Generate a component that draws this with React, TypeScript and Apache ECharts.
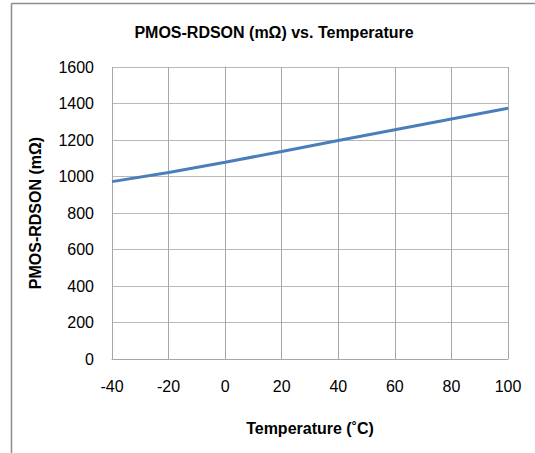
import React, { useEffect, useRef } from "react";
import * as echarts from "echarts";

const temperatures = [-40, -20, 0, 20, 40, 60, 80, 100];
const rdson = [972, 1022, 1078, 1137, 1197, 1256, 1315, 1374];
const titleText = "PMOS-RDSON (mΩ) vs. Temperature";
const xName = "Temperature (˚C)";
const yName = "PMOS-RDSON (mΩ)";

const FONT = "'Liberation Sans Narrow', 'Arial Narrow', 'Liberation Sans', Arial, sans-serif";

export default function App() {
  const ref = useRef<HTMLDivElement>(null);
  useEffect(() => {
    if (!ref.current) return;
    const chart = echarts.init(ref.current, undefined, { renderer: "svg" });
    chart.setOption({
      animation: false,
      backgroundColor: "#ffffff",
      title: {
        text: titleText,
        left: 269,
        top: 19,
        textAlign: "center",
        textStyle: { fontFamily: FONT, fontWeight: "bold", fontSize: 16, color: "#000" },
      },
      graphic: [
        { type: "line", shape: { x1: 11.5, y1: 3.5, x2: 11.5, y2: 453 }, style: { stroke: "#8c8c8c", lineWidth: 1.5 } },
        { type: "line", shape: { x1: 11.5, y1: 3.5, x2: 535, y2: 3.5 }, style: { stroke: "#8c8c8c", lineWidth: 1.5 } },
      ],
      grid: { left: 112, top: 67, width: 396, height: 292, containLabel: false },
      xAxis: {
        type: "value",
        min: -40,
        max: 100,
        interval: 20,
        name: xName,
        nameLocation: "middle",
        nameGap: 61,
        nameTextStyle: { fontFamily: FONT, fontWeight: "bold", fontSize: 16, color: "#000" },
        axisLine: { show: true, lineStyle: { color: "#a6a6a6", width: 1 } },
        axisTick: { show: false },
        axisLabel: { fontFamily: FONT, fontSize: 16, color: "#000", margin: 19, formatter: (v: number) => String(v) },
        splitLine: { show: true, lineStyle: { color: "#a6a6a6", width: 1 } },
      },
      yAxis: {
        type: "value",
        min: 0,
        max: 1600,
        interval: 200,
        name: yName,
        nameLocation: "middle",
        nameGap: 69,
        nameTextStyle: { fontFamily: FONT, fontWeight: "bold", fontSize: 16, color: "#000" },
        axisLine: { show: true, lineStyle: { color: "#a6a6a6", width: 1 } },
        axisTick: { show: false },
        axisLabel: { fontFamily: FONT, fontSize: 16, color: "#000", margin: 18, formatter: (v: number) => String(v) },
        splitLine: { show: true, lineStyle: { color: "#b8b8b8", width: 1 } },
      },
      series: [
        {
          type: "line",
          data: temperatures.map((t, i) => [t, rdson[i]]),
          showSymbol: false,
          smooth: false,
          lineStyle: { color: "#4a7ebb", width: 3 },
          itemStyle: { color: "#4a7ebb" },
        },
      ],
    });
    return () => chart.dispose();
  }, []);
  return (
    <div
      ref={ref}
      style={{ position: "fixed", left: 0, top: 0, width: 535, height: 453 }}
    />
  );
}
